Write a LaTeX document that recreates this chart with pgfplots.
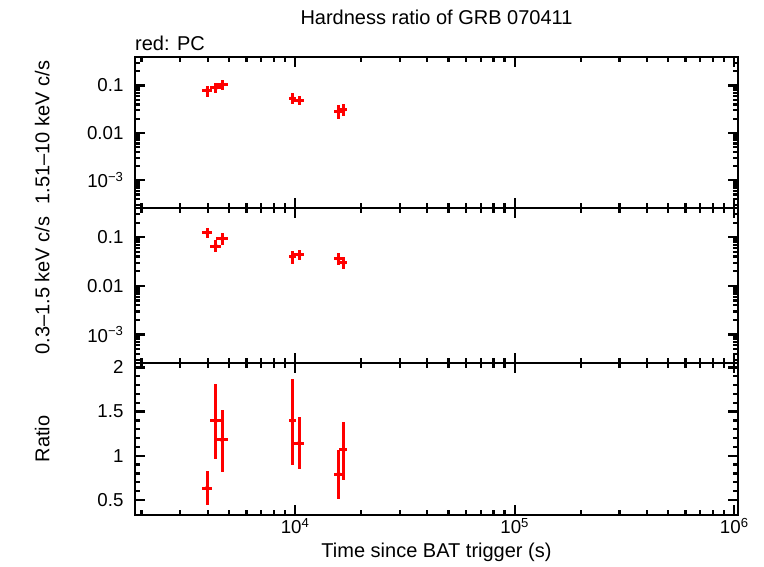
\documentclass[border=0pt]{standalone}
\usepackage{fontspec}
\setmainfont{Liberation Sans}
\usepackage{pgfplots}
\pgfplotsset{compat=1.18}
\pgfplotsset{
  every axis/.append style={
    scale only axis, width=603pt, anchor=north west,
    xmin=1866, xmax=1.04e6,
    xtick={1e4,1e5,1e6},
    minor xtick={2000,3000,4000,5000,6000,7000,8000,9000,20000,30000,40000,50000,60000,70000,80000,90000,200000,300000,400000,500000,600000,700000,800000,900000},
    axis line style={line width=2.4pt},
    tick style={line width=2.3pt, black},
    major tick length=10pt, minor tick length=5pt,
    tick align=inside,
    /pgf/number format/assume math mode=true,
    tick label style={font=\fontsize{18.7pt}{20pt}\selectfont},
    label style={font=\fontsize{20pt}{24pt}\selectfont},
    ylabel style={at={(axis description cs:-0.154,0.5)}, anchor=center},
    yticklabel style={xshift=-8pt},
  },
}
\begin{document}
\begin{tikzpicture}
\path[use as bounding box] (0pt,0pt) rectangle (764pt,-566pt);
% top: hard band
\begin{semilogyaxis}[xmode=log, at={(135pt,-57pt)}, height=151pt,
  ymin=2.6e-4, ymax=0.4,
  ytick={1e-3,0.01,0.1},
  yticklabels={10\textsuperscript{−3},0.01,0.1},
  minor ytick={3e-4,4e-4,5e-4,6e-4,7e-4,8e-4,9e-4,2e-3,3e-3,4e-3,5e-3,6e-3,7e-3,8e-3,9e-3,0.02,0.03,0.04,0.05,0.06,0.07,0.08,0.09,0.2,0.3},
  xticklabels={},
  ylabel={1.51–10 keV c/s}]
\addplot[only marks, mark=none, red,
    error bars/x dir=both, error bars/x explicit,
    error bars/y dir=both, error bars/y explicit,
    error bars/error mark=none,
    error bars/error bar style={line width=3pt, red}] coordinates {
 (3980,0.079)  += (210,0.021)  -= (210,0.022)
 (4345,0.089)  += (250,0.025)  -= (250,0.020)
 (4656,0.105)  += (280,0.029)  -= (280,0.023)
 (9720,0.054)  += (370,0.015)  -= (370,0.013)
 (10460,0.048) += (530,0.011)  -= (530,0.010)
 (15770,0.0284)+= (700,0.0096) -= (700,0.0085)
 (16620,0.0308)+= (700,0.009)  -= (700,0.008)
};
\end{semilogyaxis}
% middle: soft band
\begin{semilogyaxis}[xmode=log, at={(135pt,-208pt)}, height=155pt,
  ymin=2.6e-4, ymax=0.4,
  ytick={1e-3,0.01,0.1},
  yticklabels={10\textsuperscript{−3},0.01,0.1},
  minor ytick={3e-4,4e-4,5e-4,6e-4,7e-4,8e-4,9e-4,2e-3,3e-3,4e-3,5e-3,6e-3,7e-3,8e-3,9e-3,0.02,0.03,0.04,0.05,0.06,0.07,0.08,0.09,0.2,0.3},
  xticklabels={},
  ylabel={0.3–1.5 keV c/s}]
\addplot[only marks, mark=none, red,
    error bars/x dir=both, error bars/x explicit,
    error bars/y dir=both, error bars/y explicit,
    error bars/error mark=none,
    error bars/error bar style={line width=3pt, red}] coordinates {
 (3980,0.125)  += (210,0.033)  -= (210,0.026)
 (4345,0.066)  += (250,0.022)  -= (250,0.016)
 (4656,0.094)  += (280,0.027)  -= (280,0.025)
 (9720,0.040)  += (370,0.012)  -= (370,0.012)
 (10460,0.044) += (530,0.011)  -= (530,0.010)
 (15770,0.036) += (700,0.012)  -= (700,0.009)
 (16620,0.030) += (700,0.009)  -= (700,0.008)
};
\end{semilogyaxis}
% bottom: ratio
\begin{semilogxaxis}[at={(135pt,-363pt)}, height=152pt,
  ymin=0.33, ymax=2.05,
  ytick={0.5,1,1.5,2}, yticklabels={0.5,1,1.5,2},
  minor y tick num=4,
  xticklabels={10\textsuperscript{4},10\textsuperscript{5},10\textsuperscript{6}},
  xlabel={Time since BAT trigger (s)},
  xlabel style={at={(axis description cs:0.5,-0.243)}, anchor=center},
  ylabel={Ratio}]
\addplot[only marks, mark=none, red,
    error bars/x dir=both, error bars/x explicit,
    error bars/y dir=both, error bars/y explicit,
    error bars/error mark=none,
    error bars/error bar style={line width=3pt, red}] coordinates {
 (3980,0.635)  += (210,0.195)  -= (210,0.189)
 (4345,1.396)  += (250,0.414)  -= (250,0.43)
 (4656,1.181)  += (280,0.339)  -= (280,0.359)
 (9720,1.396)  += (370,0.474)  -= (370,0.496)
 (10460,1.144) += (530,0.294)  -= (530,0.291)
 (15770,0.793) += (700,0.275)  -= (700,0.283)
 (16620,1.068) += (700,0.32)   -= (700,0.34)
};
\end{semilogxaxis}
\node[anchor=center, font=\fontsize{20pt}{24pt}\selectfont] at (436.5pt,-17pt) {Hardness ratio of GRB 070411};
\node[anchor=west, inner sep=0pt, font=\fontsize{20pt}{24pt}\selectfont] at (135pt,-43pt) {red: PC};
\end{tikzpicture}
\end{document}
